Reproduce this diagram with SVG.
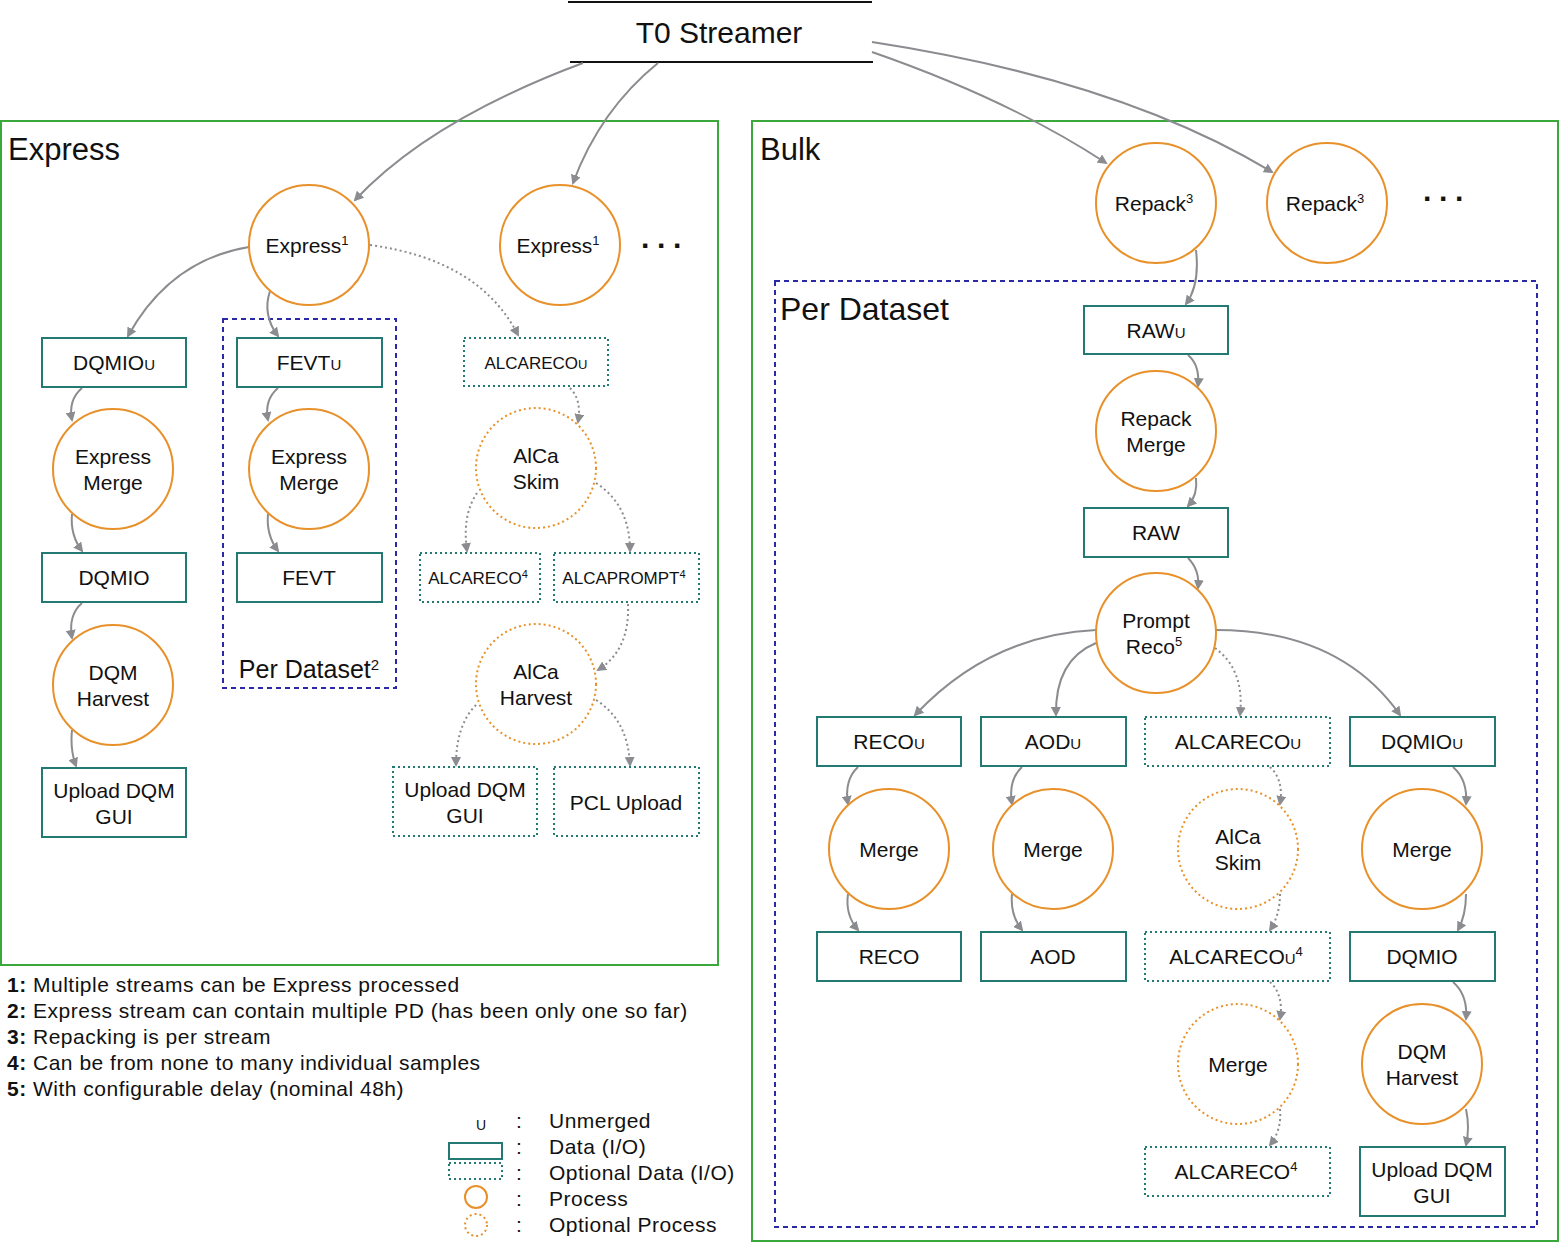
<svg xmlns="http://www.w3.org/2000/svg" width="1559" height="1242" viewBox="0 0 1559 1242">
<style>
text{font-family:"Helvetica","Liberation Sans",Arial,sans-serif;fill:#111;text-anchor:middle}
.d{fill:#fff;stroke:#237a73;stroke-width:2}
.od{fill:#fff;stroke:#237a73;stroke-width:2;stroke-dasharray:2 3}
.p{fill:#fff;stroke:#e8912a;stroke-width:2}
.op{fill:#fff;stroke:#e8912a;stroke-width:2;stroke-dasharray:2 3}
.t{font-size:21px}
.s{font-size:17px}
.a{fill:none;stroke:#8a8c90;stroke-width:2;marker-end:url(#m)}
.oa{fill:none;stroke:#8a8c90;stroke-width:2;stroke-dasharray:2 3;marker-end:url(#m)}
.panel{fill:none;stroke:#3aa83a;stroke-width:2}
.pd{fill:none;stroke:#2a2aa8;stroke-width:2;stroke-dasharray:5 4}
.fn{font-size:21px;letter-spacing:0.5px;text-anchor:start}
</style>
<defs><marker id="m" markerWidth="10" markerHeight="10" refX="8" refY="5" orient="auto" markerUnits="userSpaceOnUse"><path d="M0,0 L10,5 L0,10 z" fill="#8a8c90"/></marker></defs>
<rect class="panel" x="1" y="121" width="717" height="844"/>
<rect class="panel" x="752" y="121" width="806" height="1120"/>
<text x="8" y="160" style="font-size:31px;text-anchor:start">Express</text>
<text x="760" y="160" style="font-size:31px;text-anchor:start">Bulk</text>
<rect class="pd" x="223" y="319" width="173" height="369"/>
<text x="309" y="678" style="font-size:25px">Per Dataset<tspan dy="-8" font-size="15">2</tspan></text>
<rect class="pd" x="775" y="281" width="762" height="946"/>
<text x="780" y="320" style="font-size:32px;text-anchor:start">Per Dataset</text>
<g id="t0"><line x1="568" y1="2" x2="872" y2="2" stroke="#111" stroke-width="2"/><line x1="570" y1="62" x2="873" y2="62" stroke="#111" stroke-width="2"/><text x="719" y="43" style="font-size:30px">T0 Streamer</text></g>
<g id="connectors">
<path class="a" d="M583,63 Q430,120 355,200"/>
<path class="a" d="M658,63 Q600,110 573,183"/>
<path class="a" d="M872,52 Q1010,100 1106,163"/>
<path class="a" d="M872,42 Q1120,80 1272,172"/>
<path class="a" d="M249,247 Q170,260 128,336"/>
<path class="a" d="M270,291 Q262,315 278,336"/>
<path class="oa" d="M370,245 Q480,260 518,335"/>
<path class="a" d="M82,388 Q68,400 72,420"/>
<path class="a" d="M72,514 Q70,535 82,551"/>
<path class="a" d="M82,603 Q68,615 72,638"/>
<path class="a" d="M72,730 Q70,750 76,766"/>
<path class="a" d="M278,388 Q264,400 268,420"/>
<path class="a" d="M268,514 Q266,535 278,551"/>
<path class="oa" d="M570,388 Q582,400 578,422"/>
<path class="oa" d="M477,493 Q462,515 467,551"/>
<path class="oa" d="M596,483 Q630,505 630,551"/>
<path class="oa" d="M628,604 Q630,650 598,670"/>
<path class="oa" d="M476,705 Q456,725 456,765"/>
<path class="oa" d="M596,700 Q628,720 630,765"/>
<path class="a" d="M1196,250 Q1200,285 1186,304"/>
<path class="a" d="M1188,355 Q1200,365 1198,386"/>
<path class="a" d="M1196,478 Q1198,495 1188,506"/>
<path class="a" d="M1188,558 Q1200,570 1198,588"/>
<path class="a" d="M1096,630 Q990,635 915,715"/>
<path class="a" d="M1096,643 Q1055,660 1056,715"/>
<path class="oa" d="M1215,648 Q1245,670 1240,715"/>
<path class="a" d="M1216,630 Q1340,630 1400,715"/>
<path class="a" d="M858,767 Q844,780 848,804"/>
<path class="a" d="M848,894 Q845,915 858,930"/>
<path class="a" d="M1022,767 Q1008,780 1012,804"/>
<path class="a" d="M1012,894 Q1010,915 1022,930"/>
<path class="oa" d="M1270,767 Q1284,780 1280,804"/>
<path class="oa" d="M1280,894 Q1280,915 1270,930"/>
<path class="a" d="M1453,767 Q1468,780 1466,804"/>
<path class="a" d="M1466,894 Q1466,915 1458,930"/>
<path class="oa" d="M1270,982 Q1284,995 1280,1019"/>
<path class="oa" d="M1280,1109 Q1282,1130 1270,1145"/>
<path class="a" d="M1453,982 Q1468,995 1466,1019"/>
<path class="a" d="M1466,1109 Q1470,1128 1466,1145"/>
</g>
<g id="express1"><circle class="p" cx="309" cy="245" r="60"/><text class="t" x="307" y="253">Express<tspan dy="-8" font-size="13">1</tspan></text></g>
<g id="express2"><circle class="p" cx="560" cy="245" r="60"/><text class="t" x="558" y="253">Express<tspan dy="-8" font-size="13">1</tspan></text></g>
<text x="665" y="256" style="font-size:30px;font-weight:bold;letter-spacing:6px">···</text>
<g id="dqmiou"><rect class="d" x="42" y="338" width="144" height="49"/><text class="t" x="114" y="370">DQMIO<tspan font-size="15">U</tspan></text></g>
<g id="emerge1"><circle class="p" cx="113" cy="469" r="60"/><text class="t" x="113" y="464">Express</text><text class="t" x="113" y="490">Merge</text></g>
<g id="dqmio"><rect class="d" x="42" y="553" width="144" height="49"/><text class="t" x="114" y="585">DQMIO</text></g>
<g id="dqmharv1"><circle class="p" cx="113" cy="685" r="60"/><text class="t" x="113" y="680">DQM</text><text class="t" x="113" y="706">Harvest</text></g>
<g id="upload1"><rect class="d" x="42" y="768" width="144" height="69"/><text class="t" x="114" y="798">Upload DQM</text><text class="t" x="114" y="824">GUI</text></g>
<g id="fevtu"><rect class="d" x="237" y="338" width="145" height="49"/><text class="t" x="309" y="370">FEVT<tspan font-size="15">U</tspan></text></g>
<g id="emerge2"><circle class="p" cx="309" cy="469" r="60"/><text class="t" x="309" y="464">Express</text><text class="t" x="309" y="490">Merge</text></g>
<g id="fevt"><rect class="d" x="237" y="553" width="145" height="49"/><text class="t" x="309" y="585">FEVT</text></g>
<g id="alcarecou1"><rect class="od" x="464" y="338" width="144" height="48"/><text class="s" x="536" y="369">ALCARECO<tspan font-size="13">U</tspan></text></g>
<g id="alcaskim1"><circle class="op" cx="536" cy="468" r="60"/><text class="t" x="536" y="463">AlCa</text><text class="t" x="536" y="489">Skim</text></g>
<g id="alcareco4a"><rect class="od" x="420" y="553" width="120" height="49"/><text class="s" x="478" y="584">ALCARECO<tspan dy="-6" font-size="11">4</tspan></text></g>
<g id="alcaprompt"><rect class="od" x="554" y="553" width="145" height="49"/><text class="s" x="624" y="584">ALCAPROMPT<tspan dy="-6" font-size="11">4</tspan></text></g>
<g id="alcaharv"><circle class="op" cx="536" cy="684" r="60"/><text class="t" x="536" y="679">AlCa</text><text class="t" x="536" y="705">Harvest</text></g>
<g id="upload2"><rect class="od" x="393" y="767" width="144" height="69"/><text class="t" x="465" y="797">Upload DQM</text><text class="t" x="465" y="823">GUI</text></g>
<g id="pcl"><rect class="od" x="554" y="767" width="145" height="69"/><text class="t" x="626" y="810">PCL Upload</text></g>
<g id="repack1"><circle class="p" cx="1156" cy="203" r="60"/><text class="t" x="1154" y="211">Repack<tspan dy="-8" font-size="13">3</tspan></text></g>
<g id="repack2"><circle class="p" cx="1327" cy="203" r="60"/><text class="t" x="1325" y="211">Repack<tspan dy="-8" font-size="13">3</tspan></text></g>
<text x="1447" y="209" style="font-size:30px;font-weight:bold;letter-spacing:6px">···</text>
<g id="rawu"><rect class="d" x="1084" y="306" width="144" height="48"/><text class="t" x="1156" y="338">RAW<tspan font-size="15">U</tspan></text></g>
<g id="rmerge"><circle class="p" cx="1156" cy="431" r="60"/><text class="t" x="1156" y="426">Repack</text><text class="t" x="1156" y="452">Merge</text></g>
<g id="raw"><rect class="d" x="1084" y="508" width="144" height="49"/><text class="t" x="1156" y="540">RAW</text></g>
<g id="prompt"><circle class="p" cx="1156" cy="633" r="60"/><text class="t" x="1156" y="628">Prompt</text><text class="t" x="1154" y="654">Reco<tspan dy="-8" font-size="13">5</tspan></text></g>
<g id="recou"><rect class="d" x="817" y="717" width="144" height="49"/><text class="t" x="889" y="749">RECO<tspan font-size="15">U</tspan></text></g>
<g id="aodu"><rect class="d" x="981" y="717" width="145" height="49"/><text class="t" x="1053" y="749">AOD<tspan font-size="15">U</tspan></text></g>
<g id="alcarecou2"><rect class="od" x="1145" y="717" width="185" height="49"/><text class="t" x="1238" y="749">ALCARECO<tspan font-size="15">U</tspan></text></g>
<g id="dqmiou2"><rect class="d" x="1350" y="717" width="145" height="49"/><text class="t" x="1422" y="749">DQMIO<tspan font-size="15">U</tspan></text></g>
<g id="merge1"><circle class="p" cx="889" cy="849" r="60"/><text class="t" x="889" y="857">Merge</text></g>
<g id="merge2"><circle class="p" cx="1053" cy="849" r="60"/><text class="t" x="1053" y="857">Merge</text></g>
<g id="alcaskim2"><circle class="op" cx="1238" cy="849" r="60"/><text class="t" x="1238" y="844">AlCa</text><text class="t" x="1238" y="870">Skim</text></g>
<g id="merge3"><circle class="p" cx="1422" cy="849" r="60"/><text class="t" x="1422" y="857">Merge</text></g>
<g id="reco"><rect class="d" x="817" y="932" width="144" height="49"/><text class="t" x="889" y="964">RECO</text></g>
<g id="aod"><rect class="d" x="981" y="932" width="145" height="49"/><text class="t" x="1053" y="964">AOD</text></g>
<g id="alcarecou4"><rect class="od" x="1145" y="932" width="185" height="49"/><text class="t" x="1236" y="964">ALCARECO<tspan font-size="15">U</tspan><tspan dy="-8" font-size="13">4</tspan></text></g>
<g id="dqmio2"><rect class="d" x="1350" y="932" width="145" height="49"/><text class="t" x="1422" y="964">DQMIO</text></g>
<g id="merge4"><circle class="op" cx="1238" cy="1064" r="60"/><text class="t" x="1238" y="1072">Merge</text></g>
<g id="dqmharv2"><circle class="p" cx="1422" cy="1064" r="60"/><text class="t" x="1422" y="1059">DQM</text><text class="t" x="1422" y="1085">Harvest</text></g>
<g id="alcareco4b"><rect class="od" x="1145" y="1147" width="185" height="49"/><text class="t" x="1236" y="1179">ALCARECO<tspan dy="-8" font-size="13">4</tspan></text></g>
<g id="upload3"><rect class="d" x="1360" y="1147" width="145" height="69"/><text class="t" x="1432" y="1177">Upload DQM</text><text class="t" x="1432" y="1203">GUI</text></g>
<g id="notes">
<text class="fn" x="7" y="992"><tspan font-weight="bold">1:</tspan> Multiple streams can be Express processed</text>
<text class="fn" x="7" y="1018"><tspan font-weight="bold">2:</tspan> Express stream can contain multiple PD (has been only one so far)</text>
<text class="fn" x="7" y="1044"><tspan font-weight="bold">3:</tspan> Repacking is per stream</text>
<text class="fn" x="7" y="1070"><tspan font-weight="bold">4:</tspan> Can be from none to many individual samples</text>
<text class="fn" x="7" y="1096"><tspan font-weight="bold">5:</tspan> With configurable delay (nominal 48h)</text>
</g>
<g id="legend">
<text x="481" y="1130" style="font-size:14px">U</text>
<rect class="d" x="449" y="1143" width="53" height="16"/>
<rect class="od" x="449" y="1163" width="53" height="16"/>
<circle class="p" cx="476" cy="1197" r="11"/>
<circle class="op" cx="476" cy="1225" r="11"/>
<text class="fn" x="516" y="1128">:</text><text class="fn" x="516" y="1154">:</text><text class="fn" x="516" y="1180">:</text><text class="fn" x="516" y="1206">:</text><text class="fn" x="516" y="1232">:</text>
<text class="fn" x="549" y="1128">Unmerged</text>
<text class="fn" x="549" y="1154">Data (I/O)</text>
<text class="fn" x="549" y="1180">Optional Data (I/O)</text>
<text class="fn" x="549" y="1206">Process</text>
<text class="fn" x="549" y="1232">Optional Process</text>
</g>
</svg>
